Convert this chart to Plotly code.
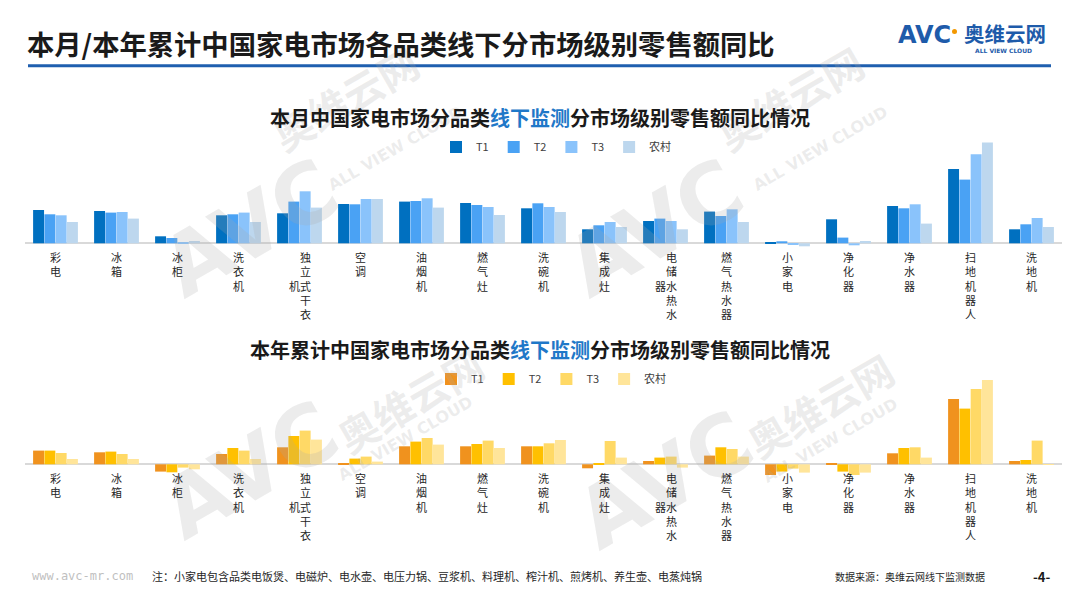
import plotly.graph_objects as go

W, H = 1080, 608
OFF = 8  # the page body has a default 8px margin; coordinates below are page pixels

categories = ["彩电", "冰箱", "冰柜", "洗衣机", "独立式干衣机", "空调", "油烟机", "燃气灶",
              "洗碗机", "集成灶", "电储水热水器", "燃气热水器", "小家电", "净化器", "净水器",
              "扫地机器人", "洗地机"]
series_names = ["T1", "T2", "T3", "农村"]

# 本月 (monthly) YoY, relative values
month_t1 = [33.3, 32.3, 7.0, 28.0, 30.0, 39.3, 41.7, 40.3, 35.0, 14.0, 22.3, 31.7, 1.3, 24.0, 37.3, 74.3, 14.0]
month_t2 = [29.0, 30.7, 5.3, 29.0, 41.7, 39.0, 42.3, 38.3, 40.0, 18.0, 24.7, 27.3, 2.0, 5.7, 35.0, 63.7, 19.0]
month_t3 = [28.0, 31.3, 1.3, 30.7, 52.0, 44.3, 45.0, 36.3, 36.3, 21.3, 22.3, 34.0, -1.0, -2.0, 39.0, 89.0, 25.3]
month_rural = [21.3, 24.7, 2.3, 21.3, 35.7, 44.3, 35.7, 28.3, 31.3, 16.3, 14.0, 21.3, -3.0, 2.3, 19.7, 100.7, 16.3]

# 本年累计 (year-to-date) YoY
ytd_t1 = [13.7, 12.0, -7.3, 10.3, 17.0, 1.3, 18.0, 18.0, 18.0, -4.0, 3.3, 8.7, -10.7, 1.3, 11.0, 65.3, 3.3]
ytd_t2 = [13.7, 12.7, -8.0, 16.3, 28.3, 5.7, 22.7, 20.3, 18.0, 1.3, 6.7, 17.0, -7.3, -7.3, 16.3, 55.7, 4.3]
ytd_t3 = [11.3, 10.3, -3.3, 13.7, 33.7, 7.7, 26.3, 23.7, 21.0, 23.3, 7.7, 15.3, -4.3, -10.7, 17.0, 75.3, 23.7]
ytd_rural = [5.3, 5.3, -5.0, 5.3, 24.7, 2.7, 19.7, 16.3, 24.3, 6.7, -3.3, 7.7, -8.3, -8.3, 6.7, 84.3, -0.7]

title_text = "本月/本年累计中国家电市场各品类线下分市场级别零售额同比"
sub1_parts = ["本月中国家电市场分品类", "线下监测", "分市场级别零售额同比情况"]
sub2_parts = ["本年累计中国家电市场分品类", "线下监测", "分市场级别零售额同比情况"]
note_text = "注：小家电包含品类电饭煲、电磁炉、电水壶、电压力锅、豆浆机、料理机、榨汁机、煎烤机、养生壶、电蒸炖锅"
source_text = "数据来源：奥维云网线下监测数据"
page_text = "-4-"
site_text = "www.avc-mr.com"

blue_colors = ["#0070C0", "#4AA2F4", "#8AC3FB", "#BDD7EE"]
orange_colors = ["#F0921E", "#FFC000", "#FFD966", "#FFE59A"]

CJK = "Noto Sans CJK SC"


def px_x(p):
    return (p - OFF) / W


def px_y(p):
    return 1 - (p - OFF) / H


def vertical_label(cat):
    """One character per line; a 6th character goes into a second column on the left.
    Returns (text, align)."""
    chars = list(cat)
    main, extra = chars[:5], chars[5:]
    if not extra:
        return "<br>".join(main), "center"
    lines = []
    for i, ch in enumerate(main):
        k = i - 2
        left = extra[k] if 0 <= k < len(extra) else ""
        lines.append(left + ch)
    return "<br>".join(lines), "right"


fig = go.Figure()

month_series = [month_t1, month_t2, month_t3, month_rural]
ytd_series = [ytd_t1, ytd_t2, ytd_t3, ytd_rural]

for name, vals, col in zip(series_names, month_series, blue_colors):
    fig.add_trace(go.Bar(x=categories, y=vals, name=name, marker_color=col,
                         marker_line_width=0, xaxis="x", yaxis="y", legend="legend",
                         hoverinfo="x+y+name"))
for name, vals, col in zip(series_names, ytd_series, orange_colors):
    fig.add_trace(go.Bar(x=categories, y=vals, name=name, marker_color=col,
                         marker_line_width=0, xaxis="x2", yaxis="y2", legend="legend2",
                         hoverinfo="x+y+name"))

xdom = [px_x(25), px_x(1062)]
axis_common = dict(showgrid=False, showticklabels=False, ticks="", showline=False, fixedrange=True)
legend_common = dict(orientation="h", xanchor="left", yanchor="middle", bgcolor="rgba(0,0,0,0)",
                     font=dict(family=CJK, size=11, color="#404040"),
                     itemclick=False, itemdoubleclick=False, tracegroupgap=0)

fig.update_layout(
    width=W, height=H,
    margin=dict(l=0, r=0, t=0, b=0),
    paper_bgcolor="white", plot_bgcolor="rgba(0,0,0,0)",
    barmode="group", bargap=0.26, bargroupgap=0.03,
    font=dict(family=CJK, color="#262626"),
    xaxis=dict(domain=xdom, anchor="y", zeroline=False, **axis_common),
    yaxis=dict(domain=[px_y(250), px_y(140)], range=[-6.7, 103.3], anchor="x",
               zeroline=True, zerolinecolor="#D9D9D9", zerolinewidth=2, **axis_common),
    xaxis2=dict(domain=xdom, anchor="y2", zeroline=False, **axis_common),
    yaxis2=dict(domain=[px_y(480), px_y(376)], range=[-15.7, 88.3], anchor="x2",
                zeroline=True, zerolinecolor="#D9D9D9", zerolinewidth=2, **axis_common),
    legend=dict(x=px_x(436), y=px_y(147), **legend_common),
    legend2=dict(x=px_x(431), y=px_y(379), **legend_common),
    showlegend=True,
)

annotations = []


def add_text(x, y, text, size, color="#262626", xanchor="center", yanchor="middle",
             family=CJK, angle=0):
    annotations.append(dict(x=px_x(x), y=px_y(y), xref="paper", yref="paper", text=text,
                            showarrow=False, xanchor=xanchor, yanchor=yanchor, textangle=angle,
                            font=dict(family=family, size=size, color=color)))


# watermarks (faint)
wm = "rgba(170,170,170,0.22)"
for (ax, ay), (bx, by), (cx, cy) in [
    ((250, 228), (345, 98), (395, 148)),
    ((655, 228), (790, 98), (820, 148)),
    ((250, 470), (410, 400), (405, 438)),
    ((665, 480), (820, 405), (830, 440)),
]:
    add_text(ax, ay, "<b>AVC</b>", 84, color=wm, family="DejaVu Sans", angle=-30)
    add_text(bx, by, "<b>奥维云网</b>", 40, color=wm, angle=-30)
    add_text(cx, cy, "<b>ALL VIEW CLOUD</b>", 16, color=wm, family="DejaVu Sans", angle=-30)

# category labels below the zero line of each chart
for xref, yref in [("x", "y"), ("x2", "y2")]:
    for cat in categories:
        txt, al = vertical_label(cat)
        annotations.append(dict(x=cat, y=0, xref=xref, yref=yref, text=txt,
                                showarrow=False, xanchor="center", yanchor="top", yshift=-4,
                                align=al,
                                font=dict(family=CJK, size=11, color="#262626")))

# main title
add_text(25, 42.5, "<b>" + title_text + "</b>", 27.3, color="#1a1a1a", xanchor="left")

# subtitles with blue highlight
hl = "#1F78C8"
add_text(540, 117, "<b>" + sub1_parts[0] + "<span style='color:%s'>" % hl + sub1_parts[1] +
         "</span>" + sub1_parts[2] + "</b>", 20, color="#1a1a1a")
add_text(540, 349, "<b>" + sub2_parts[0] + "<span style='color:%s'>" % hl + sub2_parts[1] +
         "</span>" + sub2_parts[2] + "</b>", 20, color="#1a1a1a")

# logo
logo_blue = "#1E5BAA"
add_text(924, 35.5, "<b>AVC</b>", 24, color=logo_blue, family="DejaVu Sans")
add_text(1005, 33.5, "<b>奥维云网</b>", 20.5, color=logo_blue)
add_text(1003, 50.5, "<b>ALL VIEW CLOUD</b>", 6, color=logo_blue, family="DejaVu Sans")

# footer
add_text(30, 576, site_text, 12, color="#BFBFBF", xanchor="left", family="DejaVu Sans Mono")
add_text(150, 576, note_text, 11, color="#262626", xanchor="left")
add_text(833, 576, source_text, 10, color="#262626", xanchor="left")
add_text(1041, 576, "<b>" + page_text + "</b>", 13, color="#1a1a1a")

fig.update_layout(annotations=annotations)

fig.update_layout(shapes=[
    dict(type="line", xref="paper", yref="paper", x0=px_x(28), x1=px_x(1051),
         y0=px_y(65.7), y1=px_y(65.7), line=dict(color="#1F5FAF", width=3)),
    dict(type="circle", xref="paper", yref="paper", x0=px_x(952), x1=px_x(957),
         y0=px_y(34), y1=px_y(29), fillcolor="#F39800", line=dict(width=0)),
])

fig.write_html("out.html")
